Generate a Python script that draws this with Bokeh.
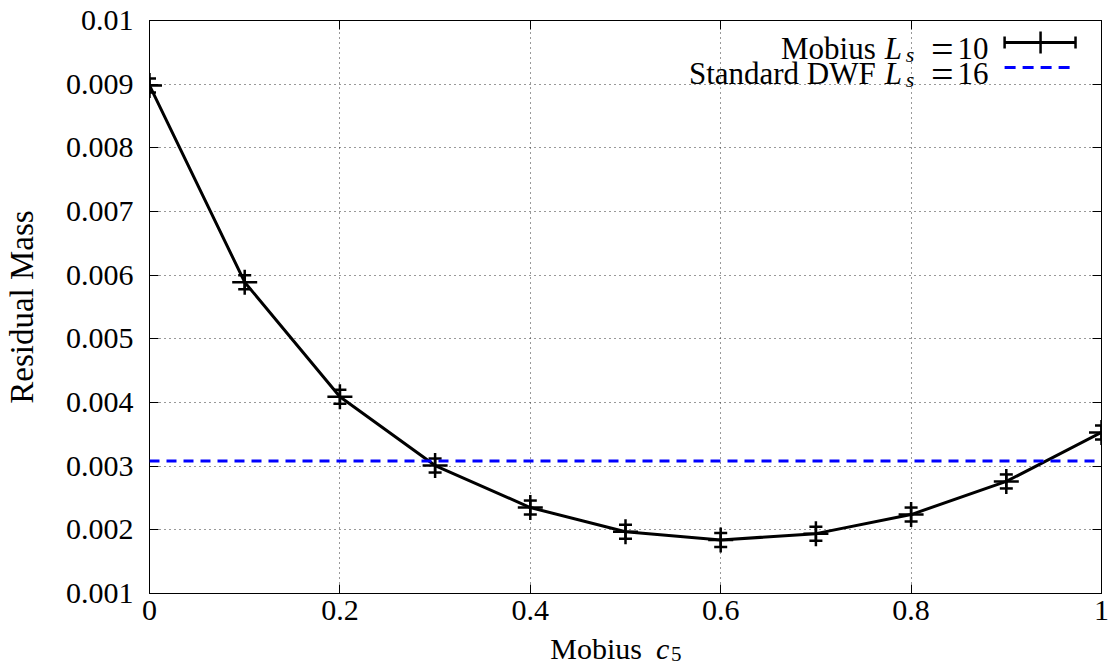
from bokeh.plotting import figure
from bokeh.models import (ColumnDataSource, Whisker, TeeHead, Label, LinearAxis,
                          FixedTicker, Span, Arrow, CustomJSTickFormatter, Range1d)
from bokeh.layouts import column
from bokeh.core.properties import value
from bokeh.embed import file_html
from bokeh.resources import INLINE

# ---------------- data ----------------
c5 = [0.0, 0.1, 0.2, 0.3, 0.4, 0.5, 0.6, 0.7, 0.8, 0.9, 1.0]
mres = [0.00898, 0.00589, 0.00409, 0.00301, 0.00235, 0.00197,
        0.00184, 0.00194, 0.00224, 0.00276, 0.00353]
mres_err = [0.00011, 0.00011, 0.00011, 0.00011, 0.00011, 0.00011,
            0.00011, 0.00011, 0.00011, 0.00011, 0.00011]
dwf_ls16 = 0.00308

x_ticks = [0.0, 0.2, 0.4, 0.6, 0.8, 1.0]
x_tick_labels = ["0", "0.2", "0.4", "0.6", "0.8", "1"]
y_ticks = [0.001, 0.002, 0.003, 0.004, 0.005, 0.006, 0.007, 0.008, 0.009, 0.01]
y_tick_labels = ["0.001", "0.002", "0.003", "0.004", "0.005", "0.006",
                 "0.007", "0.008", "0.009", "0.01"]

series_label = ("Mobius", "L", "s", "=", "10")
dwf_label = ("Standard DWF", "L", "s", "=", "16")
x_title = ("Mobius", "c", "5")
y_title = "Residual Mass"

# ---------------- layout constants (page pixels) ----------------
FONT = "Liberation Serif"
TICK_FONT = "'Liberation Serif', serif"
W, H = 1116, 670
X0, X1, YB, YT = 148.0, 1101.0, 593.0, 20.0   # plot frame
MAIN_H = 634                                   # main figure height; footer below
XMIN, XMAX = x_ticks[0], x_ticks[-1]
YMIN, YMAX = y_ticks[0], y_ticks[-1]


def dx(px):
    return XMIN + (px - X0) / (X1 - X0) * (XMAX - XMIN)


def dy(py):
    return YMIN + (YB - py) / (YB - YT) * (YMAX - YMIN)


def fmt(tvals, tlabels):
    return CustomJSTickFormatter(args=dict(tv=tvals, tl=tlabels), code="""
        for (let i = 0; i < tv.length; i++) {
            if (Math.abs(tv[i] - tick) < 1e-9) return tl[i];
        }
        return "";
    """)


src = ColumnDataSource(dict(
    x=c5, y=mres,
    lo=[v - e for v, e in zip(mres, mres_err)],
    hi=[v + e for v, e in zip(mres, mres_err)],
))

p = figure(width=W, height=MAIN_H, x_range=Range1d(XMIN, XMAX), y_range=Range1d(YMIN, YMAX),
           output_backend="svg", toolbar_location=None, title=None,
           min_border_left=int(X0), min_border_right=int(W - X1), min_border_top=int(YT),
           min_border_bottom=int(MAIN_H - YB))
p.background_fill_color = "white"
p.border_fill_color = "white"
p.outline_line_color = "black"
p.outline_line_width = 1

xa = p.below[0]
ya = p.left[0]
xa.ticker = FixedTicker(ticks=x_ticks)
ya.ticker = FixedTicker(ticks=y_ticks)
xa.formatter = fmt(x_ticks, x_tick_labels)
ya.formatter = fmt(y_ticks, y_tick_labels)

for ax in (xa, ya):
    ax.major_tick_in = 9
    ax.major_tick_out = 0
    ax.minor_tick_line_color = None
    ax.axis_line_color = "black"
    ax.major_tick_line_color = "black"
    ax.major_label_text_font = TICK_FONT
    ax.major_label_text_font_size = "30px"
    ax.major_label_text_font_style = "normal"
    ax.major_label_text_color = "black"
xa.major_label_standoff = 7
ya.major_label_standoff = 16

ya.axis_label = y_title
ya.axis_label_text_font = FONT
ya.axis_label_text_font_size = "33px"
ya.axis_label_text_font_style = "normal"
ya.axis_label_text_color = "black"
ya.axis_label_standoff = 23

# mirrored ticks on top and right
empty = CustomJSTickFormatter(code="return '';")
top = LinearAxis(ticker=FixedTicker(ticks=x_ticks), formatter=empty, major_tick_in=9,
                 major_tick_out=0, minor_tick_line_color=None, major_label_standoff=0,
                 axis_line_color="black")
right = LinearAxis(ticker=FixedTicker(ticks=y_ticks), formatter=empty, major_tick_in=9,
                   major_tick_out=0, minor_tick_line_color=None, major_label_standoff=0,
                   axis_line_color="black")
p.add_layout(top, "above")
p.add_layout(right, "right")

p.xgrid.ticker = FixedTicker(ticks=x_ticks)
p.ygrid.ticker = FixedTicker(ticks=y_ticks)
for g in (p.xgrid, p.ygrid):
    g.grid_line_color = "#333333"
    g.grid_line_dash = "1 4"
    g.grid_line_width = 1

# standard DWF line
p.add_layout(Span(location=dwf_ls16, dimension="width", line_color="#0000ff",
                  line_width=3, line_dash="10 7"))

# Mobius data
p.line("x", "y", source=src, line_color="black", line_width=3)
p.add_layout(Whisker(base="x", lower="lo", upper="hi", source=src, dimension="height",
                     line_color="black", line_width=2.5,
                     upper_head=TeeHead(size=13, line_width=2.5, line_color="black"),
                     lower_head=TeeHead(size=13, line_width=2.5, line_color="black")))
p.scatter("x", "y", source=src, marker="cross", size=25, line_width=2.5,
          line_color="black")


def lab(x, y, text, size, align="left", style="normal"):
    p.add_layout(Label(x=x, y=y, text=text, text_font=FONT,
                       text_font_size=size, text_font_style=style,
                       text_align=align, text_baseline="alphabetic", text_color="black"))


# ---------------- legend (text left of sample, as in gnuplot) ----------------
for (lbl, base_py) in ((series_label, 48), (dwf_label, 73)):
    lab(dx(875), dy(base_py), lbl[0], "31px", align="right")
    lab(dx(884), dy(base_py), lbl[1], "31px", style="italic")
    lab(dx(905), dy(base_py + 6), lbl[2], "22px", style="italic")
    lab(dx(941.5), dy(base_py + 1), lbl[3], "40px", align="center")
    lab(dx(988), dy(base_py), lbl[4], "31px", align="right")

# error-bar legend sample
ly = 42
p.add_layout(Arrow(end=None, x_start=dx(1004), x_end=dx(1075), y_start=dy(ly), y_end=dy(ly),
                   line_color="black", line_width=3))
p.add_layout(Arrow(end=None, x_start=dx(1040), x_end=dx(1040), y_start=dy(ly - 11),
                   y_end=dy(ly + 11), line_color="black", line_width=2.5))
for ex in (1004, 1075):
    p.add_layout(Arrow(end=None, x_start=dx(ex), x_end=dx(ex), y_start=dy(ly - 6),
                       y_end=dy(ly + 6), line_color="black", line_width=2.5))
# dashed legend sample
p.add_layout(Arrow(end=None, x_start=dx(1004), x_end=dx(1075), y_start=dy(67), y_end=dy(67),
                   line_color="#0000ff", line_width=3, line_dash="11 7"))

# ---------------- x axis title (footer strip sharing the x range) ----------------
FOOT_H = H - MAIN_H
TITLE_BASE = 22        # baseline height above the footer's bottom edge
foot = figure(width=W, height=FOOT_H, x_range=p.x_range, y_range=Range1d(0, FOOT_H),
              output_backend="svg", toolbar_location=None, title=None,
              x_axis_type=None, y_axis_type=None,
              min_border_left=int(X0), min_border_right=int(W - X1),
              min_border_top=0, min_border_bottom=0)
foot.outline_line_color = None
foot.grid.visible = False
foot.background_fill_color = "white"
foot.border_fill_color = "white"
foot.text(x=[dx(641)], y=[TITLE_BASE], text=[x_title[0]], text_font=value(FONT),
          text_font_size="30px", text_align="right", text_baseline="alphabetic",
          text_color="black")
foot.text(x=[dx(655)], y=[TITLE_BASE], text=[x_title[1]], text_font=value(FONT),
          text_font_size="30px", text_font_style="italic", text_align="left",
          text_baseline="alphabetic", text_color="black")
foot.text(x=[dx(670)], y=[TITLE_BASE - 5], text=[x_title[2]], text_font=value(FONT),
          text_font_size="21px", text_align="left", text_baseline="alphabetic",
          text_color="black")

layout = column(p, foot, spacing=0)
open("out.html", "w").write(file_html(layout, INLINE))
